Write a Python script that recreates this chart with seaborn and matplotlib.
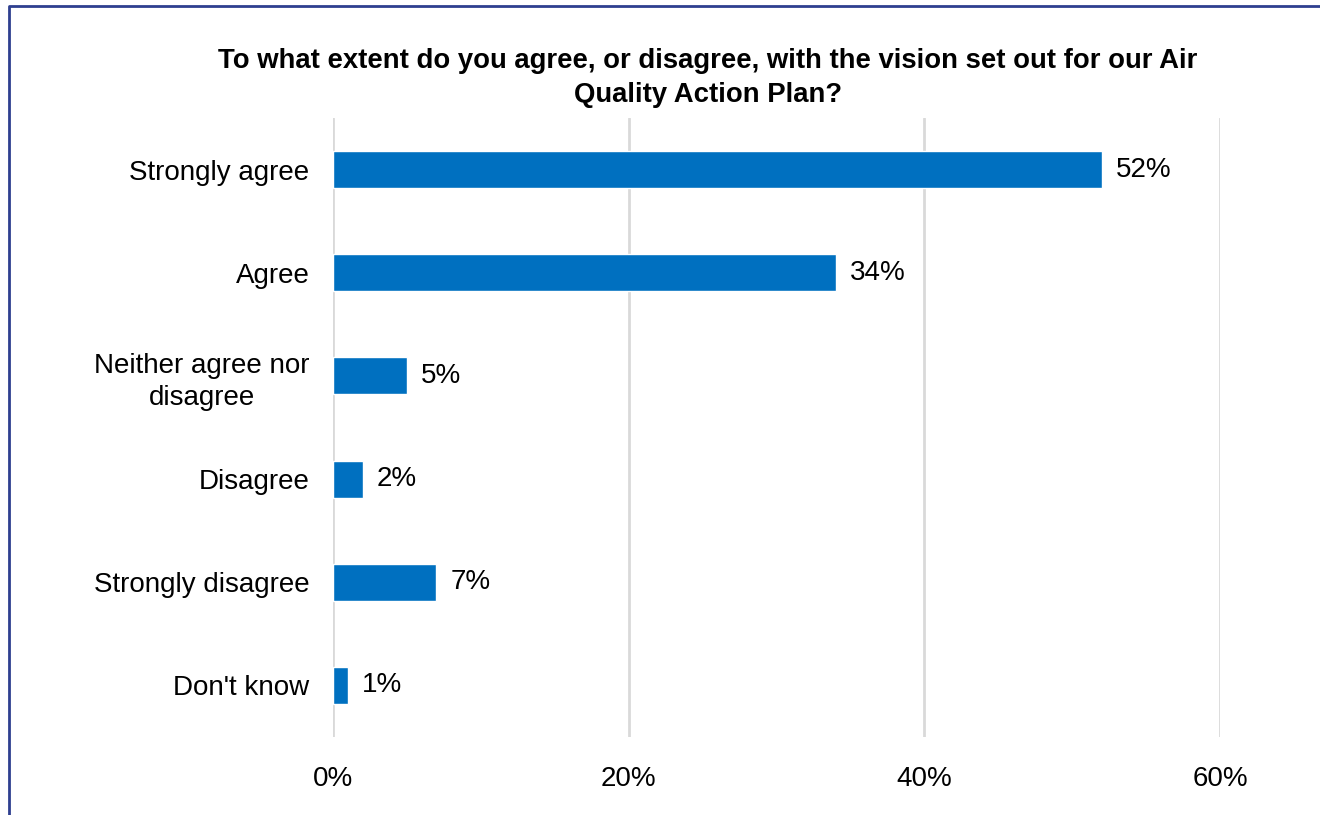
import matplotlib
matplotlib.use("Agg")
import matplotlib.pyplot as plt
from matplotlib.lines import Line2D
import seaborn as sns
import pandas as pd

categories = ["Strongly agree", "Agree", "Neither agree nor\ndisagree",
              "Disagree", "Strongly disagree", "Don't know"]
values = [52, 34, 5, 2, 7, 1]
x_ticks = [0, 20, 40, 60]
x_tick_labels = ["0%", "20%", "40%", "60%"]
title = ("To what extent do you agree, or disagree, with the vision set out for our Air\n"
         "Quality Action Plan?")

sns.set_theme(style="white")
plt.rcParams["font.family"] = ["Liberation Sans", "DejaVu Sans"]

df = pd.DataFrame({"category": categories, "value": values})

W, H = 1320, 815
fig = plt.figure(figsize=(W / 100, H / 100), dpi=100)
ax = fig.add_axes([333 / W, 1 - 737 / H, (1220 - 333) / W, (737 - 118) / H])

sns.barplot(data=df, y="category", x="value", orient="h", color="#0070C0",
            saturation=1, width=0.36, ax=ax)

ax.set_xlim(0, 60)
ax.set_ylim(len(categories) - 0.5, -0.5)
ax.set_xticks(x_ticks)
ax.set_xticklabels(x_tick_labels, fontsize=20, color="#000000")
ax.tick_params(axis="x", length=0, pad=21)
ax.tick_params(axis="y", length=0, pad=17, labelsize=20, labelcolor="#000000")
for lbl in ax.get_yticklabels():
    lbl.set_multialignment("center")
    lbl.set_linespacing(1.3)
ax.set_xlabel("")
ax.set_ylabel("")
ax.xaxis.grid(True, color="#D9D9D9", linewidth=2)
ax.set_axisbelow(True)
for s in ax.spines.values():
    s.set_visible(False)

for i, v in enumerate(values):
    ax.annotate(f"{v}%", xy=(v, i), xytext=(10, 0), textcoords="offset points",
                va="center", ha="left", fontsize=20, color="#000000")

fig.text(708 / W, 1 - 78 / H, title, ha="center", va="center", fontsize=19.8,
         fontweight="bold", linespacing=1.45, color="#000000")

# outer frame of the chart area
fig.add_artist(Line2D([9 / W, 9 / W, 1.0], [0.0, 1 - 6 / H, 1 - 6 / H],
                      transform=fig.transFigure, color="#2E3F8F", linewidth=2))

fig.savefig("out.png", dpi=100)
